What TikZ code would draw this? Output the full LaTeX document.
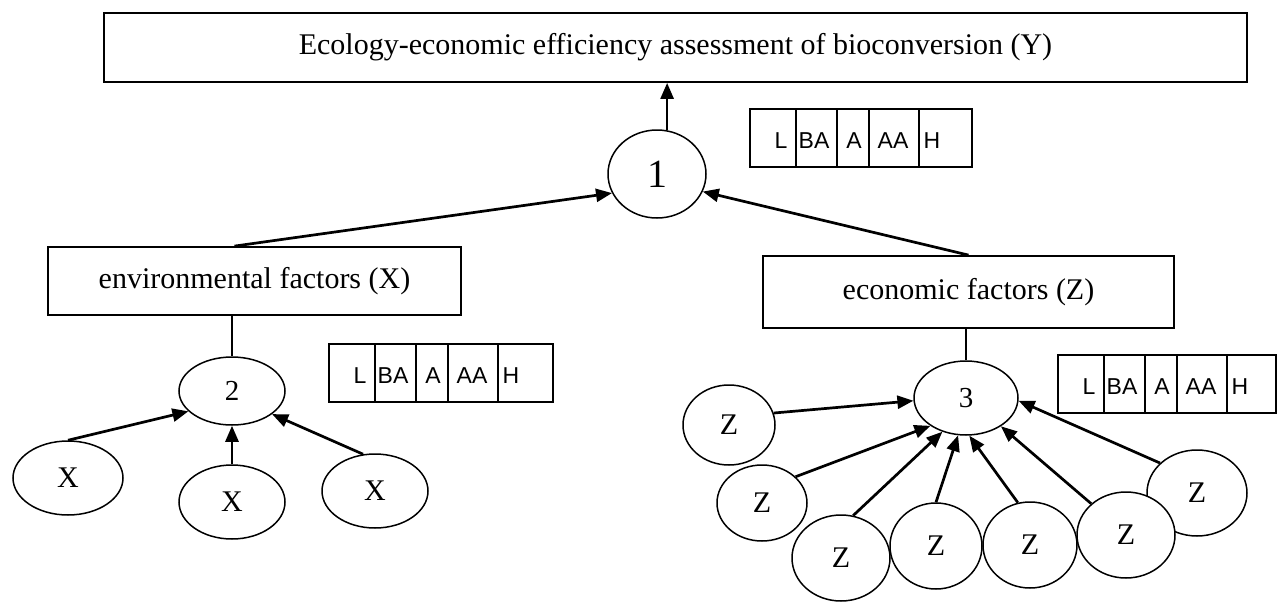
\documentclass[tikz,border=0pt]{standalone}
\usepackage{fontspec}
\setmainfont{Liberation Serif}
\newfontfamily\lvlfont{Liberation Sans}
\usetikzlibrary{shapes.geometric,arrows.meta,calc}
\tikzset{
  box/.style={draw, rectangle, line width=1.8pt, inner sep=0pt, font=\fontsize{30}{32}\selectfont},
  ell/.style={draw, ellipse, line width=1.5pt, inner sep=0pt, fill=white},
  arr/.style={line width=2.7pt, -{Triangle[length=16pt,width=13pt]}},
  plain/.style={line width=1.6pt},
  tbl/.style={line width=1.4pt},
  lvl/.style={inner sep=0pt, font=\lvlfont\fontsize{23}{25}\selectfont},
  xz/.style={font=\fontsize{30}{32}\selectfont},
}
\newcommand\levelrow[4]{% name, left x, top y, width
  \coordinate (#1) at (#2,#3);
  \draw[tbl] (#1) rectangle ++(#4,58);
  \foreach \d in {46,87,119,169} \draw[tbl] ($(#1)+(\d,0)$) -- ++(0,58);
  \foreach \o/\t in {31/L,64/BA,104/A,143/AA,182/H}
    \node[lvl] (#1-\t) at ($(#1)+(\o,32)$) {\t};
}
\begin{document}
\begin{tikzpicture}[x=1pt,y=-1pt]
\useasboundingbox (0,0) rectangle (1278,603);
\fill[white] (0,0) rectangle (1278,603);

% boxes
\node[box, minimum width=1143pt, minimum height=69pt] (top) at (675.5,47.5)
  {Ecology-economic efficiency assessment of bioconversion (Y)};
\node[box, minimum width=413pt, minimum height=68pt] (env) at (254.5,281)
  {environmental factors (X)};
\node[box, minimum width=411pt, minimum height=72pt] (econ) at (968.5,292)
  {economic factors (Z)};

% aggregation nodes
\node[ell, minimum width=98pt, minimum height=88pt, font=\fontsize{40}{42}\selectfont] (c1) at (657,174) {1};
\node[ell, minimum width=106pt, minimum height=68pt, font=\fontsize{29}{31}\selectfont] (c2) at (232,391) {2};
\node[ell, minimum width=104pt, minimum height=74pt, font=\fontsize{29}{31}\selectfont] (c3) at (966,398) {3};

% X factors
\node[ell, xz, minimum width=110pt, minimum height=74pt] (x1) at (68,478) {X};
\node[ell, xz, minimum width=106pt, minimum height=74pt] (x2) at (232,502) {X};
\node[ell, xz, minimum width=106pt, minimum height=74pt] (x3) at (375,491) {X};

% Z factors
\node[ell, xz, minimum width=100pt, minimum height=86pt] (z7) at (1197,493) {Z};
\node[ell, xz, minimum width=92pt, minimum height=80pt] (z1) at (729,425) {Z};
\node[ell, xz, minimum width=90pt, minimum height=76pt] (z2) at (762,503) {Z};
\node[ell, xz, minimum width=98pt, minimum height=86pt] (z3) at (841,558) {Z};
\node[ell, xz, minimum width=92pt, minimum height=86pt] (z4) at (936,546) {Z};
\node[ell, xz, minimum width=94pt, minimum height=86pt] (z5) at (1030,545) {Z};
\node[ell, xz, minimum width=98pt, minimum height=86pt] (z6) at (1126,535) {Z};

% level tables
\levelrow{lv1}{750}{109}{222}
\levelrow{lv2}{329}{344}{224}
\levelrow{lv3}{1058}{355}{218}

% connectors
\draw[arr] (c1.77) -- (c1.77 |- top.south);
\draw[arr] ([xshift=-20pt]env.north) -- (c1.203);
\draw[arr] (econ.north) -- (c1.339);
\draw[plain] (c2.north |- env.south) -- (c2.north);
\draw[plain] (c3.north |- econ.south) -- (c3.north);

\draw[arr] (x1.90) -- (c2.205);
\draw[arr] (x2.north) -- (c2.south);
\draw[arr] (x3.108) -- (c2.330);

\draw[arr] (z1.15) -- (c3.183);
\draw[arr] (z2.38) -- (c3.218);
\draw[arr] (z3.74) -- (c3.235);
\draw[arr] (z4.90) -- (c3.258);
\draw[arr] (z5.106) -- (c3.275);
\draw[arr] (z6.138) -- (c3.321);
\draw[arr] (z7.141) -- (c3.357);
\end{tikzpicture}
\end{document}
